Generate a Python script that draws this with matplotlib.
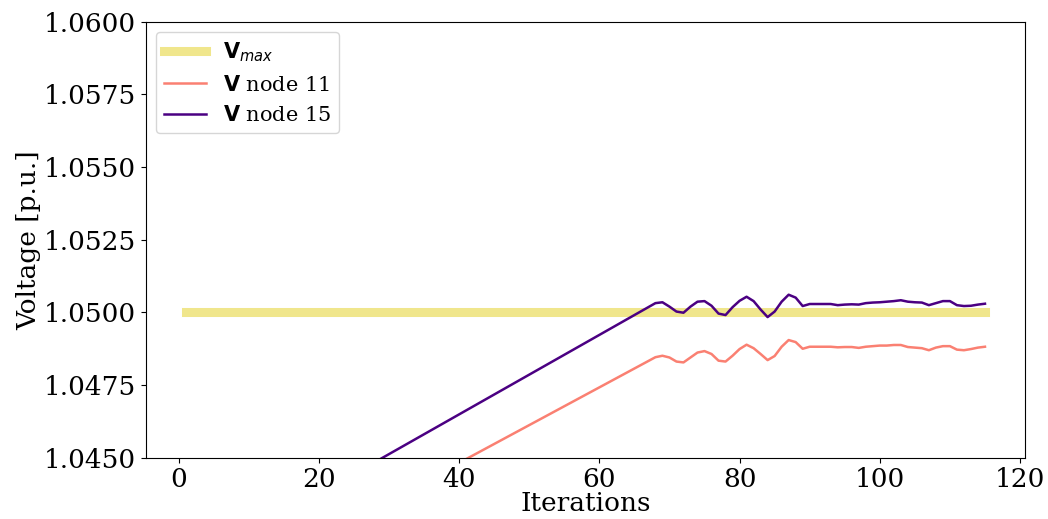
#!/usr/bin/env python3
"""Voltage at nodes 11 and 15 against the upper voltage limit over the iterations."""

import matplotlib
matplotlib.use("Agg")
import matplotlib.pyplot as plt

V_MAX = 1.05
ITER_START = 1
ITER_END = 115

# iteration numbers for the node series: start of the ramp, then every step from 68 on
iterations = [1] + list(range(68, 116))

v_node11 = [
    1.03976,
    1.04846, 1.04851, 1.04845, 1.04831, 1.04828, 1.04845, 1.04862, 1.04867,
    1.04857, 1.04834, 1.04831, 1.04851, 1.04874, 1.04889, 1.04877, 1.04857,
    1.04836, 1.04850, 1.04882, 1.04905, 1.04898, 1.04875, 1.04882, 1.04882,
    1.04882, 1.04882, 1.04880, 1.04881, 1.04881, 1.04878, 1.04882, 1.04884,
    1.04886, 1.04886, 1.04888, 1.04888, 1.04881, 1.04879, 1.04877, 1.04870,
    1.04879, 1.04884, 1.04884, 1.04872, 1.04870, 1.04874, 1.04879, 1.04882,
]

v_node15 = [
    1.04116,
    1.05032, 1.05035, 1.05020, 1.05003, 1.04999, 1.05020, 1.05037, 1.05039,
    1.05023, 1.04996, 1.04991, 1.05018, 1.05040, 1.05054, 1.05039, 1.05010,
    1.04984, 1.05003, 1.05037, 1.05061, 1.05051, 1.05022, 1.05029, 1.05029,
    1.05029, 1.05029, 1.05025, 1.05027, 1.05028, 1.05027, 1.05032, 1.05034,
    1.05035, 1.05037, 1.05039, 1.05042, 1.05037, 1.05035, 1.05034, 1.05025,
    1.05032, 1.05039, 1.05039, 1.05025, 1.05022, 1.05023, 1.05027, 1.05030,
]

plt.rcParams["font.family"] = "DejaVu Serif"
plt.rcParams["mathtext.fontset"] = "dejavusans"

fig, ax = plt.subplots(figsize=(10.48, 5.19), dpi=100)
fig.subplots_adjust(left=0.139, right=0.978, top=0.958, bottom=0.118)

ax.plot([ITER_START, ITER_END], [V_MAX, V_MAX], color="khaki", lw=6.5,
        label=r"$\mathbf{V}_{max}$")
ax.plot(iterations, v_node11, color="salmon", lw=1.8, label=r"$\mathbf{V}$ node 11")
ax.plot(iterations, v_node15, color="indigo", lw=1.8, label=r"$\mathbf{V}$ node 15")

ax.set_ylim(1.045, 1.06)
ax.set_yticks([1.045, 1.0475, 1.05, 1.0525, 1.055, 1.0575, 1.06])
ax.yaxis.set_major_formatter(matplotlib.ticker.FormatStrFormatter("%.4f"))
ax.tick_params(labelsize=19)
ax.set_xlabel("Iterations", fontsize=19, labelpad=-1)
ax.set_ylabel("Voltage [p.u.]", fontsize=19, labelpad=2)

ax.legend(loc="upper left", fontsize=15)

fig.savefig("out.png", dpi=100)
